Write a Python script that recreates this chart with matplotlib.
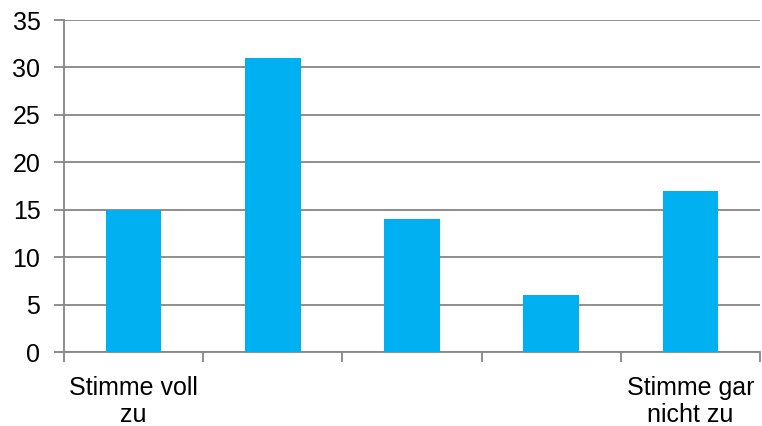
import numpy as np
import matplotlib.pyplot as plt

categories = ["Stimme voll\nzu", "", "", "", "Stimme gar\nnicht zu"]
values = [15, 31, 14, 6, 17]

plt.rcParams['font.family'] = ['Liberation Sans', 'DejaVu Sans']

fig = plt.figure(figsize=(7.62, 4.26), dpi=100)
ax = fig.add_axes([64 / 762, 1 - 352 / 426, (760 - 64) / 762, (352 - 20) / 426])

x = np.arange(len(values))
ax.bar(x, values, width=0.4, color='#00B0F0', zorder=3)

ax.set_xlim(-0.5, len(values) - 0.5)
ax.set_ylim(0, 35)
ax.set_yticks(np.arange(0, 36, 5))
ax.yaxis.grid(True, color='#868686', linewidth=1.3, zorder=0)

# category labels centred, tick marks between categories
ax.set_xticks(x)
ax.set_xticklabels(categories, fontsize=18, linespacing=1.2)
ax.tick_params(axis='x', length=0, pad=17)
ax.set_xticks(np.arange(-0.5, len(values)), minor=True)
ax.tick_params(axis='x', which='minor', length=7, width=1.3, color='#868686')
ax.tick_params(axis='y', length=7, width=1.3, color='#868686', labelsize=18, pad=10)

for s in ['top', 'right']:
    ax.spines[s].set_visible(False)
for s in ['left', 'bottom']:
    ax.spines[s].set_color('#868686')
    ax.spines[s].set_linewidth(1.3)

fig.savefig('out.png', dpi=100)
